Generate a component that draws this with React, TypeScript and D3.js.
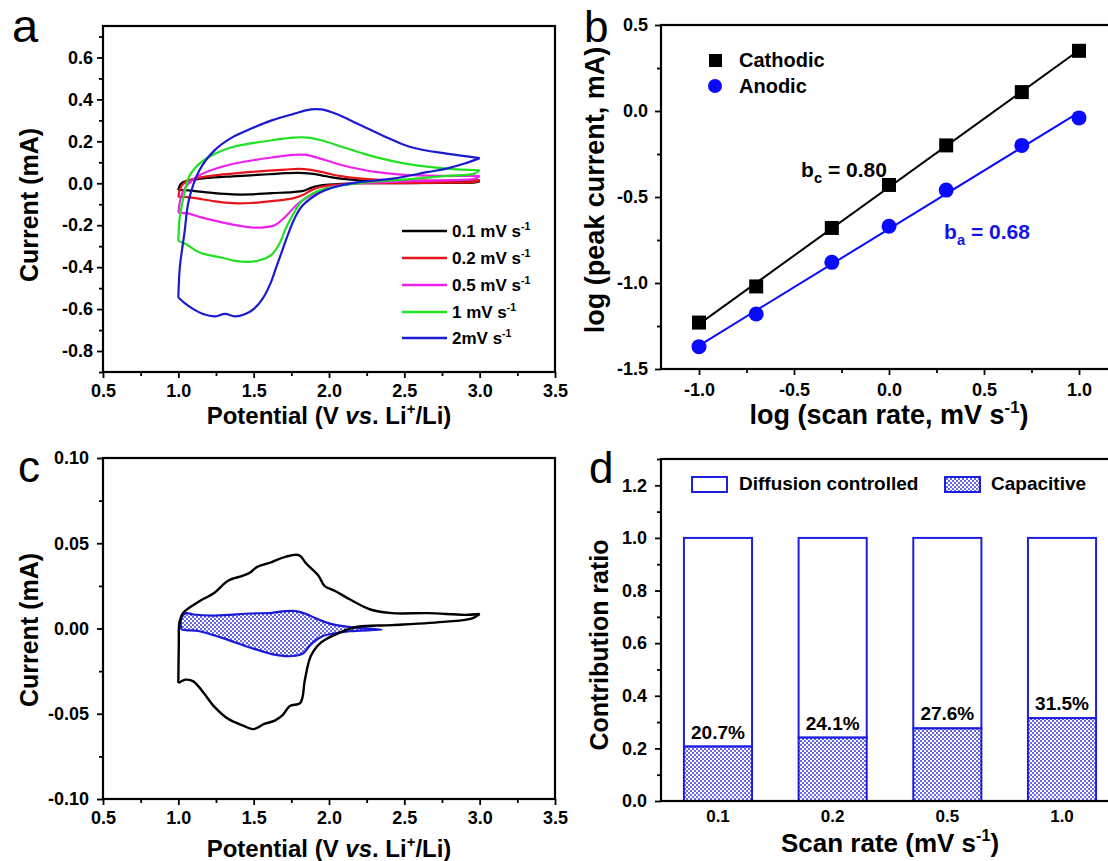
import React, { useEffect, useRef } from 'react';
import * as d3 from 'd3';

const FONT = '"Liberation Sans", Arial, Helvetica, sans-serif';

// (a) CV curves, [potential V, current mA], anodic branch then cathodic branch
const cvNames = ['0.1 mV s', '0.2 mV s', '0.5 mV s', '1 mV s', '2mV s'];
const cvColors = ['#000000', '#e8141c', '#ee22ee', '#22e022', '#1a1ad0'];

const cv01Up = [[1.0, -0.033], [1.01, -0.01], [1.03, 0.005], [1.07, 0.014], [1.15, 0.022], [1.24, 0.028], [1.36, 0.033], [1.48, 0.038], [1.6, 0.043], [1.71, 0.048], [1.8, 0.05], [1.88, 0.046], [1.95, 0.038], [2.02, 0.028], [2.09, 0.021], [2.2, 0.014], [2.31, 0.011], [2.5, 0.009], [2.75, 0.009], [3.0, 0.01]];
const cv01Down = [[3.0, 0.01], [2.97, 0.004], [2.75, 0.002], [2.5, 0.001], [2.2, 0.0], [2.0, -0.006], [1.93, -0.012], [1.88, -0.022], [1.83, -0.036], [1.76, -0.042], [1.62, -0.047], [1.48, -0.053], [1.36, -0.053], [1.24, -0.047], [1.1, -0.036], [1.03, -0.032], [1.0, -0.033]];

const cv02Up = [[1.0, -0.065], [1.01, -0.03], [1.03, -0.005], [1.07, 0.014], [1.15, 0.028], [1.24, 0.038], [1.36, 0.046], [1.48, 0.054], [1.6, 0.06], [1.71, 0.065], [1.8, 0.069], [1.88, 0.064], [1.95, 0.054], [2.02, 0.042], [2.09, 0.033], [2.2, 0.023], [2.31, 0.017], [2.5, 0.014], [2.75, 0.013], [3.0, 0.015]];
const cv02Down = [[3.0, 0.015], [2.97, 0.006], [2.75, 0.003], [2.5, 0.001], [2.2, 0.0], [2.0, -0.01], [1.93, -0.02], [1.88, -0.034], [1.83, -0.055], [1.76, -0.072], [1.62, -0.085], [1.48, -0.094], [1.36, -0.095], [1.24, -0.086], [1.1, -0.07], [1.03, -0.065], [1.0, -0.065]];

const cv05Up = [[1.0, -0.14], [1.01, -0.09], [1.03, -0.04], [1.07, 0.0], [1.14, 0.038], [1.24, 0.068], [1.36, 0.092], [1.48, 0.108], [1.62, 0.123], [1.76, 0.135], [1.85, 0.135], [1.93, 0.12], [2.0, 0.105], [2.09, 0.086], [2.2, 0.068], [2.31, 0.054], [2.5, 0.04], [2.75, 0.035], [3.0, 0.035]];
const cv05Down = [[3.0, 0.035], [2.97, 0.022], [2.66, 0.013], [2.4, 0.006], [2.19, 0.0], [2.0, -0.02], [1.9, -0.05], [1.79, -0.1], [1.71, -0.16], [1.64, -0.2], [1.57, -0.21], [1.48, -0.21], [1.36, -0.197], [1.24, -0.178], [1.14, -0.16], [1.07, -0.145], [1.0, -0.14]];

const cv1Up = [[1.0, -0.275], [1.01, -0.16], [1.04, -0.05], [1.07, 0.03], [1.14, 0.094], [1.24, 0.14], [1.36, 0.173], [1.48, 0.19], [1.62, 0.205], [1.76, 0.218], [1.86, 0.218], [1.95, 0.205], [2.09, 0.173], [2.2, 0.148], [2.31, 0.125], [2.54, 0.09], [2.78, 0.07], [3.0, 0.062]];
const cv1Down = [[3.0, 0.062], [2.96, 0.045], [2.78, 0.035], [2.54, 0.02], [2.19, 0.0], [2.0, -0.022], [1.9, -0.045], [1.82, -0.085], [1.76, -0.15], [1.71, -0.22], [1.67, -0.29], [1.62, -0.34], [1.55, -0.365], [1.46, -0.375], [1.38, -0.37], [1.29, -0.355], [1.14, -0.33], [1.05, -0.29], [1.0, -0.275]];

const cv2Up = [[1.0, -0.545], [1.01, -0.4], [1.04, -0.24], [1.07, -0.08], [1.14, 0.062], [1.24, 0.157], [1.36, 0.22], [1.48, 0.26], [1.62, 0.3], [1.76, 0.33], [1.88, 0.352], [1.95, 0.352], [2.05, 0.33], [2.19, 0.284], [2.38, 0.22], [2.54, 0.173], [2.78, 0.141], [2.95, 0.125], [3.0, 0.12]];
const cv2Down = [[3.0, 0.12], [2.9, 0.094], [2.78, 0.07], [2.66, 0.054], [2.42, 0.022], [2.19, 0.004], [2.07, -0.012], [1.97, -0.035], [1.9, -0.062], [1.82, -0.11], [1.77, -0.17], [1.73, -0.24], [1.69, -0.32], [1.65, -0.4], [1.61, -0.48], [1.56, -0.55], [1.5, -0.6], [1.44, -0.625], [1.38, -0.635], [1.31, -0.623], [1.24, -0.635], [1.17, -0.625], [1.1, -0.6], [1.04, -0.57], [1.0, -0.545]];

const cvUp = [cv01Up, cv02Up, cv05Up, cv1Up, cv2Up];
const cvDown = [cv01Down, cv02Down, cv05Down, cv1Down, cv2Down];

// (b) log peak current vs log scan rate
const logRate = [-1, -0.699, -0.301, 0, 0.301, 0.699, 1];
const cathodic = [-1.23, -1.02, -0.68, -0.43, -0.2, 0.11, 0.35];
const anodic = [-1.37, -1.18, -0.88, -0.67, -0.46, -0.2, -0.04];

// (c) CV at 0.1 mV/s with capacitive part
const cTotalUp = [[1.0, -0.032], [1.003, -0.01], [1.008, 0.004], [1.03, 0.009], [1.07, 0.012], [1.14, 0.016], [1.24, 0.021], [1.33, 0.028], [1.43, 0.031], [1.48, 0.033], [1.52, 0.036], [1.62, 0.039], [1.71, 0.042], [1.8, 0.043], [1.85, 0.038], [1.93, 0.031], [1.97, 0.025], [2.04, 0.022], [2.14, 0.017], [2.28, 0.011], [2.42, 0.009], [2.66, 0.009], [2.9, 0.008], [3.0, 0.0085]];
const cTotalDown = [[3.0, 0.0085], [2.95, 0.006], [2.78, 0.004], [2.42, 0.002], [2.19, 0.001], [2.07, -0.0025], [1.95, -0.008], [1.88, -0.016], [1.84, -0.03], [1.81, -0.0436], [1.74, -0.0455], [1.69, -0.051], [1.64, -0.054], [1.57, -0.056], [1.5, -0.059], [1.43, -0.057], [1.33, -0.053], [1.24, -0.046], [1.17, -0.038], [1.1, -0.031], [1.05, -0.03], [1.0, -0.032]];
const cCapUp = [[1.02, -0.0006], [1.02, 0.006], [1.05, 0.009], [1.1, 0.0082], [1.24, 0.0076], [1.48, 0.0088], [1.62, 0.0092], [1.71, 0.0102], [1.78, 0.0102], [1.85, 0.0085], [1.9, 0.0065], [2.0, 0.003], [2.14, 0.0008], [2.35, -0.0006]];
const cCapDown = [[2.35, -0.0006], [2.14, -0.0016], [2.04, -0.0028], [1.95, -0.0048], [1.88, -0.0094], [1.83, -0.0145], [1.78, -0.016], [1.71, -0.0162], [1.62, -0.015], [1.48, -0.0113], [1.29, -0.0055], [1.14, -0.0016], [1.05, -0.001], [1.02, -0.0006]];

// (d) contribution ratio
const scanRates = ['0.1', '0.2', '0.5', '1.0'];
const capacitive = [0.207, 0.241, 0.276, 0.315];
const capLabels = ['20.7%', '24.1%', '27.6%', '31.5%'];

type Part = { t: string; k?: 'sup' | 'sub' | 'i' };

function rich(el: any, parts: Part[], size: number) {
  let shift = 0;
  parts.forEach((p) => {
    const ts = el.append('tspan').text(p.t);
    let target = 0;
    if (p.k === 'sup') {
      target = -size * 0.42;
      ts.attr('font-size', size * 0.62);
    }
    if (p.k === 'sub') {
      target = size * 0.28;
      ts.attr('font-size', size * 0.7);
    }
    if (p.k === 'i') ts.attr('font-style', 'italic');
    if (target - shift !== 0) ts.attr('dy', target - shift);
    shift = target;
  });
}

function ticks(g: any, ax: any, at: string, size: number) {
  const a = g.append('g').attr('transform', at).call(ax);
  a.select('.domain').remove();
  a.selectAll('line').attr('stroke', '#000').attr('stroke-width', 1.8);
  a.selectAll('text')
    .attr('fill', '#000')
    .attr('font-family', FONT)
    .attr('font-weight', 'bold')
    .attr('font-size', size);
  return a;
}

const fmt = (n: number) => (v: any) => (+v).toFixed(n);

const App = () => {
  const ref = useRef<SVGSVGElement>(null);

  useEffect(() => {
    const svg = d3.select(ref.current);
    svg.selectAll('*').remove();
    svg.append('rect').attr('width', 1108).attr('height', 861).attr('fill', '#fff');

    const defs = svg.append('defs');
    const pat = defs
      .append('pattern')
      .attr('id', 'chk')
      .attr('width', 4)
      .attr('height', 4)
      .attr('patternUnits', 'userSpaceOnUse');
    pat.append('rect').attr('width', 4).attr('height', 4).attr('fill', '#fff');
    pat.append('rect').attr('width', 2).attr('height', 2).attr('fill', '#3535d8');
    pat.append('rect').attr('x', 2).attr('y', 2).attr('width', 2).attr('height', 2).attr('fill', '#3535d8');

    const label = (x: number, y: number, t: string, size = 44) =>
      svg
        .append('text')
        .attr('x', x)
        .attr('y', y)
        .attr('font-family', FONT)
        .attr('font-size', size)
        .text(t);

    const title = (x: number, y: number, parts: Part[], size: number, rot = false, color = '#000') => {
      const t = svg
        .append('text')
        .attr('font-family', FONT)
        .attr('font-weight', 'bold')
        .attr('font-size', size)
        .attr('fill', color)
        .attr('text-anchor', 'middle');
      if (rot) t.attr('transform', `translate(${x},${y}) rotate(-90)`);
      else t.attr('x', x).attr('y', y);
      rich(t, parts, size);
      return t;
    };

    // ---------- panel a ----------
    const xA = d3.scaleLinear().domain([0.5, 3.5]).range([103, 555]);
    const yA = d3.scaleLinear().domain([-0.9, 0.75]).range([372, 26]);
    const gA = svg.append('g');
    const lineA = d3
      .line<number[]>()
      .x((d) => xA(d[0]))
      .y((d) => yA(d[1]))
      .curve(d3.curveCatmullRom.alpha(0.5));
    for (let i = 0; i < cvUp.length; i++) {
      [cvUp[i], cvDown[i]].forEach((br) => {
        gA.append('path')
          .attr('d', lineA(br))
          .attr('fill', 'none')
          .attr('stroke', cvColors[i])
          .attr('stroke-width', 2.2)
          .attr('stroke-linejoin', 'round');
      });
    }
    ticks(gA, d3.axisBottom(xA).tickValues(d3.range(0.5, 3.51, 0.5)).tickFormat(fmt(1)).tickSize(6).tickPadding(6).tickSizeOuter(0), 'translate(0,372)', 18);
    ticks(gA, d3.axisBottom(xA).tickValues(d3.range(0.75, 3.4, 0.5)).tickFormat(() => '').tickSize(4).tickSizeOuter(0), 'translate(0,372)', 18);
    ticks(gA, d3.axisLeft(yA).tickValues(d3.range(-0.8, 0.61, 0.2)).tickFormat(fmt(1)).tickSize(6).tickPadding(4).tickSizeOuter(0), 'translate(103,0)', 18);
    ticks(gA, d3.axisLeft(yA).tickValues(d3.range(-0.9, 0.71, 0.2)).tickFormat(() => '').tickSize(4).tickSizeOuter(0), 'translate(103,0)', 18);
    gA.append('rect').attr('x', 103).attr('y', 26).attr('width', 452).attr('height', 346).attr('fill', 'none').attr('stroke', '#000').attr('stroke-width', 2.2);

    const legY = [231, 258, 285, 312, 338];
    cvNames.forEach((n, i) => {
      gA.append('line').attr('x1', 402).attr('x2', 447).attr('y1', legY[i]).attr('y2', legY[i]).attr('stroke', cvColors[i]).attr('stroke-width', 2.4);
      const t = gA.append('text').attr('x', 452).attr('y', legY[i] + 6).attr('font-family', FONT).attr('font-weight', 'bold').attr('font-size', 17);
      rich(t, [{ t: n }, { t: '-1', k: 'sup' }], 17);
    });

    title(38, 205, [{ t: 'Current (mA)' }], 25, true);
    title(329, 424, [{ t: 'Potential (V ' }, { t: 'vs', k: 'i' }, { t: '. Li' }, { t: '+', k: 'sup' }, { t: '/Li)' }], 24);
    label(12, 42, 'a', 47);

    // ---------- panel b ----------
    const xB = d3.scaleLinear().domain([-1.2, 1.2]).range([661, 1117]);
    const yB = d3.scaleLinear().domain([-1.5, 0.5]).range([369, 25]);
    const gB = svg.append('g');
    const fit = (ys: number[]) => {
      const mx = d3.mean(logRate) as number;
      const my = d3.mean(ys) as number;
      const sxy = d3.sum(logRate, (x, i) => (x - mx) * (ys[i] - my));
      const sxx = d3.sum(logRate, (x) => (x - mx) * (x - mx));
      const k = sxy / sxx;
      return [[-1, my + k * (-1 - mx)], [1, my + k * (1 - mx)]];
    };
    const lineB = d3
      .line<number[]>()
      .x((d) => xB(d[0]))
      .y((d) => yB(d[1]));
    [
      [cathodic, '#000'],
      [anodic, '#0a0aff'],
    ].forEach(([ys, c]: any) => {
      gB.append('path').attr('d', lineB(fit(ys))).attr('stroke', c).attr('stroke-width', 2).attr('fill', 'none');
    });
    logRate.forEach((x, i) => {
      gB.append('rect').attr('x', xB(x) - 7).attr('y', yB(cathodic[i]) - 7).attr('width', 14).attr('height', 14).attr('fill', '#000');
      gB.append('circle').attr('cx', xB(x)).attr('cy', yB(anodic[i])).attr('r', 7.5).attr('fill', '#0a0aff');
    });
    ticks(gB, d3.axisBottom(xB).tickValues(d3.range(-1, 1.01, 0.5)).tickFormat(fmt(1)).tickSize(6).tickPadding(8).tickSizeOuter(0), 'translate(0,369)', 18);
    ticks(gB, d3.axisBottom(xB).tickValues(d3.range(-0.75, 0.8, 0.5)).tickFormat(() => '').tickSize(4).tickSizeOuter(0), 'translate(0,369)', 18);
    ticks(gB, d3.axisLeft(yB).tickValues(d3.range(-1.5, 0.51, 0.5)).tickFormat(fmt(1)).tickSize(6).tickPadding(7).tickSizeOuter(0), 'translate(661,0)', 18);
    ticks(gB, d3.axisLeft(yB).tickValues(d3.range(-1.25, 0.3, 0.5)).tickFormat(() => '').tickSize(4).tickSizeOuter(0), 'translate(661,0)', 18);
    gB.append('rect').attr('x', 661).attr('y', 25).attr('width', 456).attr('height', 344).attr('fill', 'none').attr('stroke', '#000').attr('stroke-width', 2.2);

    gB.append('rect').attr('x', 709).attr('y', 54).attr('width', 13).attr('height', 13).attr('fill', '#000');
    gB.append('circle').attr('cx', 715).attr('cy', 86).attr('r', 7).attr('fill', '#0a0aff');
    gB.append('text').attr('x', 739).attr('y', 67).attr('font-family', FONT).attr('font-weight', 'bold').attr('font-size', 20).text('Cathodic');
    gB.append('text').attr('x', 739).attr('y', 93).attr('font-family', FONT).attr('font-weight', 'bold').attr('font-size', 20).text('Anodic');

    title(844, 177, [{ t: 'b' }, { t: 'c', k: 'sub' }, { t: ' = 0.80' }], 21);
    title(987, 239, [{ t: 'b' }, { t: 'a', k: 'sub' }, { t: ' = 0.68' }], 21, false, '#1414e6');

    title(604, 190, [{ t: 'log (peak current, mA)' }], 27, true);
    title(889, 424, [{ t: 'log (scan rate, mV s' }, { t: '-1', k: 'sup' }, { t: ')' }], 27);
    label(584, 42, 'b', 44);

    // ---------- panel c ----------
    const xC = d3.scaleLinear().domain([0.5, 3.5]).range([103, 555]);
    const yC = d3.scaleLinear().domain([-0.1, 0.1]).range([799, 458]);
    const gC = svg.append('g');
    const lineC = d3
      .line<number[]>()
      .x((d) => xC(d[0]))
      .y((d) => yC(d[1]))
      .curve(d3.curveCatmullRom.alpha(0.5));
    gC.append('path')
      .attr('d', lineC(cCapUp.concat(cCapDown.slice(1))))
      .attr('fill', 'url(#chk)')
      .attr('fill-opacity', 0.75)
      .attr('stroke', '#1a1ad8')
      .attr('stroke-width', 2.2);
    [cTotalUp, cTotalDown].forEach((br) => {
      gC.append('path').attr('d', lineC(br)).attr('fill', 'none').attr('stroke', '#000').attr('stroke-width', 2.4).attr('stroke-linejoin', 'round');
    });
    ticks(gC, d3.axisBottom(xC).tickValues(d3.range(0.5, 3.51, 0.5)).tickFormat(fmt(1)).tickSize(6).tickPadding(6).tickSizeOuter(0), 'translate(0,799)', 18);
    ticks(gC, d3.axisBottom(xC).tickValues(d3.range(0.75, 3.4, 0.5)).tickFormat(() => '').tickSize(4).tickSizeOuter(0), 'translate(0,799)', 18);
    ticks(gC, d3.axisLeft(yC).tickValues(d3.range(-0.1, 0.101, 0.05)).tickFormat(fmt(2)).tickSize(6).tickPadding(8).tickSizeOuter(0), 'translate(103,0)', 18);
    ticks(gC, d3.axisLeft(yC).tickValues(d3.range(-0.075, 0.08, 0.05)).tickFormat(() => '').tickSize(4).tickSizeOuter(0), 'translate(103,0)', 18);
    gC.append('rect').attr('x', 103).attr('y', 458).attr('width', 452).attr('height', 341).attr('fill', 'none').attr('stroke', '#000').attr('stroke-width', 2.2);

    title(38, 630, [{ t: 'Current (mA)' }], 25, true);
    title(329, 857, [{ t: 'Potential (V ' }, { t: 'vs', k: 'i' }, { t: '. Li' }, { t: '+', k: 'sup' }, { t: '/Li)' }], 24);
    label(18, 482, 'c', 44);

    // ---------- panel d ----------
    const xD = d3.scaleBand().domain(scanRates).range([661, 1119]).paddingInner(0.406).paddingOuter(0.2);
    const yD = d3.scaleLinear().domain([0, 1.3]).range([801, 459]);
    const gD = svg.append('g');
    const blueD = '#1e1ee0';
    scanRates.forEach((s, i) => {
      const x0 = xD(s) as number;
      const bw = xD.bandwidth();
      gD.append('rect').attr('x', x0).attr('y', yD(1)).attr('width', bw).attr('height', yD(capacitive[i]) - yD(1)).attr('fill', '#fff').attr('stroke', blueD).attr('stroke-width', 2);
      gD.append('rect').attr('x', x0).attr('y', yD(capacitive[i])).attr('width', bw).attr('height', yD(0) - yD(capacitive[i])).attr('fill', 'url(#chk)').attr('fill-opacity', 0.75).attr('stroke', blueD).attr('stroke-width', 2);
      gD.append('text')
        .attr('x', x0 + bw / 2)
        .attr('y', yD(capacitive[i]) - 8)
        .attr('text-anchor', 'middle')
        .attr('font-family', FONT)
        .attr('font-weight', 'bold')
        .attr('font-size', 19)
        .text(capLabels[i]);
    });
    ticks(gD, d3.axisBottom(xD).tickSize(0).tickPadding(9).tickSizeOuter(0), 'translate(0,801)', 17);
    ticks(gD, d3.axisLeft(yD).tickValues(d3.range(0, 1.21, 0.2)).tickFormat(fmt(1)).tickSize(6).tickPadding(8).tickSizeOuter(0), 'translate(661,0)', 18);
    ticks(gD, d3.axisLeft(yD).tickValues(d3.range(0.1, 1.31, 0.2)).tickFormat(() => '').tickSize(4).tickSizeOuter(0), 'translate(661,0)', 18);
    gD.append('rect').attr('x', 661).attr('y', 459).attr('width', 458).attr('height', 342).attr('fill', 'none').attr('stroke', '#000').attr('stroke-width', 2.2);

    gD.append('rect').attr('x', 692).attr('y', 477).attr('width', 35).attr('height', 15).attr('fill', '#fff').attr('stroke', blueD).attr('stroke-width', 2);
    gD.append('text').attr('x', 739).attr('y', 490).attr('font-family', FONT).attr('font-weight', 'bold').attr('font-size', 19).text('Diffusion controlled');
    gD.append('rect').attr('x', 945).attr('y', 477).attr('width', 35).attr('height', 15).attr('fill', 'url(#chk)').attr('fill-opacity', 0.75).attr('stroke', blueD).attr('stroke-width', 2);
    gD.append('text').attr('x', 991).attr('y', 490).attr('font-family', FONT).attr('font-weight', 'bold').attr('font-size', 19).text('Capacitive');

    title(608, 645, [{ t: 'Contribution ratio' }], 25, true);
    title(890, 852, [{ t: 'Scan rate (mV s' }, { t: '-1', k: 'sup' }, { t: ')' }], 26);
    label(589, 483, 'd', 44);
  }, []);

  return <svg ref={ref} width={1108} height={861} style={{ position: 'absolute', left: 0, top: 0 }} />;
};

export default App;
